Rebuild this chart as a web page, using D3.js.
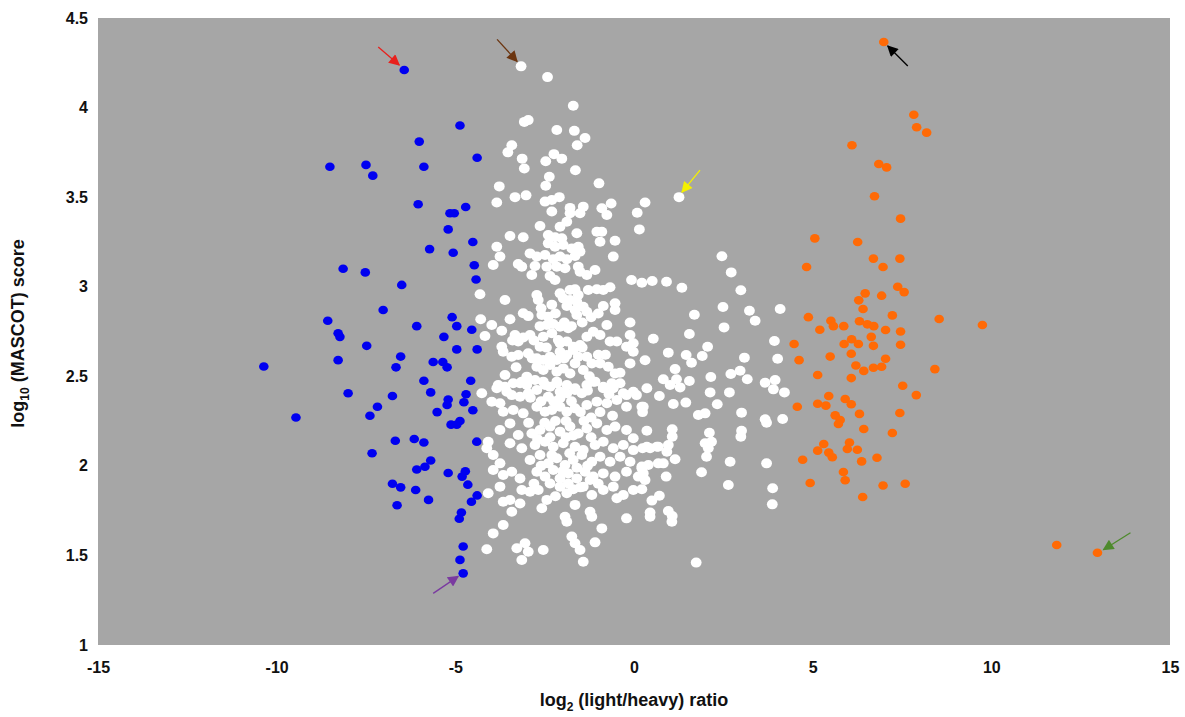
<!DOCTYPE html>
<html>
<head>
<meta charset="utf-8">
<script src="https://cdn.jsdelivr.net/npm/d3@7"></script>
<style>
  body { margin: 0; background: #fff; }
  text { font-family: "Liberation Sans", Arial, sans-serif; font-weight: bold; fill: #111; }
</style>
</head>
<body>
<div id="chart"></div>
<script>
/* Data (log2 light/heavy ratio, log10 MASCOT score) */
const xTicks = [-15, -10, -5, 0, 5, 10, 15];
const yTicks = [1, 1.5, 2, 2.5, 3, 3.5, 4, 4.5];

const bluePoints = [
  [-6.43,4.21],[-4.87,3.90],[-6.01,3.81],[-4.39,3.72],[-8.51,3.67],[-7.50,3.68],[-7.31,3.62],[-5.88,3.67],
  [-6.04,3.46],[-4.71,3.445],[-5.15,3.41],[-5.03,3.41],[-5.20,3.32],[-4.51,3.25],[-5.72,3.21],[-5.06,3.19],
  [-4.47,3.12],[-4.42,3.04],[-8.14,3.10],[-7.52,3.08],[-6.50,3.01],[-7.02,2.87],[-8.57,2.81],[-5.09,2.83],
  [-4.96,2.78],[-4.54,2.76],[-6.08,2.78],[-8.28,2.74],[-8.23,2.72],[-7.48,2.67],[-5.32,2.72],[-4.96,2.65],
  [-4.39,2.65],[-6.53,2.61],[-10.36,2.555],[-8.28,2.59],[-6.66,2.55],[-5.62,2.58],[-5.35,2.58],[-5.23,2.55],
  [-5.88,2.475],[-4.57,2.475],[-5.69,2.41],[-4.70,2.40],[-8.00,2.405],[-6.76,2.39],[-5.20,2.37],[-5.23,2.34],
  [-4.76,2.355],[-4.51,2.31],[-5.51,2.30],[-7.18,2.33],[-7.39,2.28],[-9.46,2.27],[-5.12,2.23],[-4.96,2.23],
  [-4.87,2.25],[-6.68,2.14],[-6.15,2.15],[-5.88,2.13],[-4.40,2.135],[-7.33,2.07],[-5.69,2.03],[-6.08,1.98],
  [-5.85,1.995],[-5.20,1.96],[-4.72,1.97],[-4.81,1.94],[-4.65,1.895],[-4.39,1.835],[-6.76,1.90],[-6.53,1.88],
  [-6.11,1.865],[-5.75,1.81],[-4.55,1.80],[-6.63,1.78],[-4.83,1.74],[-4.89,1.705],[-4.78,1.55],[-4.87,1.475],
  [-4.78,1.40]
];

const orangePoints = [
  [6.99,4.366],[7.83,3.96],[7.91,3.89],[8.19,3.86],[6.10,3.79],[6.85,3.685],[7.07,3.666],[6.73,3.505],
  [7.46,3.38],[5.06,3.27],[6.26,3.25],[6.70,3.157],[7.44,3.157],[4.83,3.11],[6.97,3.11],
  [7.38,3.00],[7.56,2.97],[6.47,2.963],[6.93,2.95],[6.29,2.924],[6.41,2.876],[7.23,2.84],[8.54,2.82],
  [4.88,2.83],[5.51,2.81],[5.58,2.78],[5.20,2.76],[5.87,2.78],[6.31,2.807],[6.53,2.79],[6.71,2.78],
  [7.04,2.758],[7.46,2.75],[6.64,2.72],[6.09,2.707],[5.88,2.68],[6.28,2.68],[4.48,2.68],[6.70,2.67],
  [7.46,2.676],[5.49,2.61],[6.08,2.626],[4.62,2.59],[7.04,2.598],[6.93,2.553],[6.70,2.548],[6.21,2.56],
  [6.43,2.53],[8.42,2.54],[5.14,2.507],[6.08,2.49],[7.52,2.447],[7.90,2.395],[5.45,2.39],[5.14,2.347],
  [5.37,2.336],[5.91,2.373],[6.08,2.344],[4.57,2.33],[7.44,2.295],[5.63,2.282],[5.77,2.256],[5.72,2.234],
  [6.31,2.29],[6.43,2.206],[7.23,2.183],[6.03,2.13],[5.97,2.094],[6.25,2.09],[5.31,2.122],[5.14,2.085],
  [5.45,2.074],[5.55,2.048],[4.72,2.034],[6.37,2.025],[6.80,2.045],[5.86,1.966],[5.91,1.92],[4.93,1.904],
  [6.97,1.89],[7.59,1.90],[6.40,1.826],[9.75,2.786],[11.83,1.558],[12.97,1.515]
];

const whitePoints = [
  [-3.16,4.23],[-2.42,4.17],[-1.70,4.01],[-3.07,3.92],[-2.96,3.93],[-2.16,3.875],[-1.67,3.87],[-1.37,3.83],
  [-1.59,3.79],[-3.42,3.79],[-3.53,3.75],[-3.13,3.715],[-3.07,3.66],[-2.24,3.74],[-2.02,3.715],[-2.47,3.70],
  [-1.64,3.65],[-2.37,3.614],[-2.47,3.564],[-0.98,3.577],[-3.77,3.56],[-3.33,3.50],[-3.02,3.51],[-3.84,3.47],
  [-2.49,3.475],[-2.30,3.484],[-2.09,3.50],[-2.30,3.42],[-1.79,3.44],[-1.42,3.447],[-1.79,3.41],[-1.51,3.41],
  [-0.90,3.438],[-0.76,3.40],[-0.64,3.465],[0.31,3.47],[0.09,3.413],
  [1.26,3.50],[0.15,3.32],[2.46,3.17],[2.72,3.08],[2.99,2.98],[0.22,3.022],[0.51,3.032],[0.91,3.028],
  [1.34,2.994],[2.49,2.887],[3.23,2.866],[3.39,2.81],[4.09,2.876],[1.69,2.844],[2.52,2.773],[1.55,2.736],
  [0.54,2.71],[3.93,2.697],[2.06,2.665],[0.96,2.632],[1.46,2.619],[1.91,2.613],[0.31,2.59],[1.61,2.576],
  [3.09,2.604],[4.02,2.598],[1.15,2.54],[0.82,2.483],[1.19,2.483],[1.55,2.474],[2.15,2.496],[2.71,2.513],
  [2.97,2.531],[3.17,2.483],[3.67,2.464],[3.95,2.479],[4.21,2.41],[1.01,2.451],[1.29,2.438],[2.13,2.41],
  [2.67,2.41],[3.90,2.427],
  [0.71,2.39],[1.10,2.345],[1.45,2.353],[2.33,2.344],[0.26,2.33],[0.24,2.30],[1.80,2.284],[1.99,2.293],
  [3.01,2.297],[3.67,2.26],[3.71,2.241],[4.16,2.262],[0.36,2.196],[1.07,2.204],[1.07,2.163],[2.11,2.185],
  [3.01,2.196],[2.99,2.163],[0.45,2.098],[0.68,2.107],[0.92,2.079],[0.96,2.116],[1.99,2.126],[2.17,2.135],
  [2.08,2.098],[2.03,2.051],[0.24,2.098],[1.15,2.037],[0.68,2.014],[0.82,2.014],[2.69,2.023],[3.71,2.014],
  [0.22,1.996],[0.26,1.958],[0.31,1.921],[0.90,1.94],[1.89,1.964],[2.64,1.893],[3.88,1.875],[3.87,1.785],
  [0.22,1.869],[0.71,1.833],[0.50,1.806],[0.45,1.739],[0.45,1.716],[0.96,1.748],[1.07,1.72],[1.06,1.688],
  [1.74,1.46],
  [-2.63,3.339],[-2.07,3.335],[-1.88,3.363],[-1.60,3.298],[-1.04,3.307],[-0.90,3.307],[-3.47,3.283],[-3.10,3.276],
  [-2.40,3.289],[-2.21,3.276],[-2.02,3.27],[-0.95,3.251],[-0.53,3.257],[-2.40,3.242],[-3.84,3.223],[-2.21,3.223],
  [-1.98,3.233],[-1.74,3.214],[-1.56,3.223],
  [-3.75,3.168],[-3.94,3.121],[-3.24,3.127],[-3.14,3.112],[-2.91,3.186],[-2.72,3.168],[-2.49,3.177],[-2.26,3.153],
  [-2.07,3.168],[-1.88,3.153],[-1.65,3.171],[-1.51,3.196],[-2.77,3.116],[-2.44,3.112],[-2.16,3.112],[-1.93,3.103],
  [-1.56,3.112],[-1.51,3.084],[-1.32,3.065],[-1.09,3.093],[-0.58,3.168],[-2.86,3.065],[-2.35,3.06],[-2.21,3.037],
  [-0.07,3.037],
  [-4.31,2.958],[-3.61,2.926],[-2.72,2.954],[-2.68,2.926],[-2.07,2.963],[-1.98,2.935],[-1.79,2.982],[-1.65,2.986],
  [-1.56,2.954],[-1.79,2.926],[-1.60,2.916],[-1.28,2.982],[-1.04,2.986],[-0.86,2.982],[-0.67,2.997],[-1.88,2.892],
  [-1.65,2.87],[-1.42,2.888],[-1.32,2.86],[-0.86,2.892],[-0.53,2.907],[-0.53,2.87],[-1.60,2.842],[-3.10,2.852],
  [-2.96,2.836],[-2.58,2.842],[-2.40,2.833],[-0.11,2.80],
  [-4.29,2.818],[-3.98,2.786],[-3.47,2.818],[-4.17,2.725],[-3.70,2.754],[-3.70,2.665],[-3.33,2.73],[-3.10,2.717],
  [-2.91,2.73],[-3.24,2.694],[-2.63,2.78],[-2.44,2.786],[-2.26,2.792],[-2.07,2.777],[-2.54,2.721],[-2.30,2.74],
  [-2.12,2.703],[-1.84,2.768],[-2.63,2.665],[-2.07,2.684],[-1.88,2.694],[-1.70,2.665],[-1.51,2.675],[-1.32,2.721],
  [-1.14,2.749],[-0.95,2.73],[-0.67,2.694],[-0.48,2.694],[-0.11,2.73],[-0.02,2.684],[-0.76,2.786],[-0.21,2.665],
  [-0.02,2.637],
  [-3.66,2.637],[-3.42,2.609],[-3.24,2.619],[-2.96,2.628],[-2.72,2.60],[-2.54,2.591],[-2.35,2.609],[-2.16,2.591],
  [-2.07,2.637],[-1.88,2.619],[-1.70,2.647],[-1.56,2.609],[-1.65,2.572],[-2.72,2.553],[-2.54,2.535],[-2.35,2.563],
  [-2.16,2.526],[-1.98,2.544],[-1.79,2.516],[-1.32,2.609],[-1.18,2.572],[-1.42,2.535],[-0.95,2.572],[-0.72,2.553],
  [-0.53,2.516],[-0.39,2.52],[-0.11,2.572],[-3.0,2.498],[-3.19,2.461],[-3.0,2.451],[-2.77,2.479],[-3.61,2.507],
  [-3.80,2.451],[-3.56,2.414],[-4.26,2.405],[-2.54,2.47],[-2.35,2.442],[-2.16,2.47],[-2.07,2.414],[-1.88,2.451],
  [-1.65,2.433],[-1.46,2.405],[-1.14,2.47],[-0.86,2.442],[-0.62,2.461],[-0.30,2.405],[-0.02,2.414],[0.36,2.433],
  [-3.98,2.358],[-3.75,2.349],[-3.84,2.433],[-3.61,2.442],[-3.38,2.461],[-3.14,2.47],[-3.42,2.395],[-3.19,2.386],
  [-2.96,2.405],[-2.72,2.423],[-2.49,2.451],[-2.16,2.461],[-2.40,2.386],[-2.07,2.377],[-1.88,2.405],[-1.65,2.423],
  [-1.32,2.451],[-1.09,2.47],[-0.86,2.433],[-0.58,2.433],[-0.39,2.461],[-0.21,2.395],[0.07,2.395],
  [-3.66,2.302],[-3.38,2.312],[-3.10,2.293],[-2.72,2.33],[-2.49,2.302],[-2.30,2.312],[-2.07,2.33],[-1.88,2.302],
  [-1.65,2.321],[-1.32,2.34],[-1.04,2.358],[-0.76,2.349],[-0.48,2.368],[-0.21,2.33],[0.22,2.33],
  [-3.75,2.20],[-3.47,2.237],[-3.24,2.172],[-2.86,2.181],[-2.63,2.20],[-2.35,2.219],[-2.07,2.191],[-1.79,2.219],
  [-1.56,2.181],[-1.32,2.209],[-1.04,2.237],[-0.76,2.20],[-0.53,2.219],[-0.21,2.20],[-0.02,2.154],
  [-4.08,2.135],[-4.12,2.098],[-3.47,2.126],[-3.14,2.098],[-2.77,2.116],[-2.49,2.135],[-2.26,2.107],[-1.98,2.126],
  [-1.65,2.107],[-1.42,2.088],[-1.09,2.116],[-0.86,2.135],[-0.58,2.098],[-0.30,2.116],[-0.02,2.088],[0.36,2.107],
  [0.64,2.107],
  [-3.94,2.061],[-3.75,2.014],[-3.94,1.977],[-3.66,1.949],[-3.42,1.967],[-3.19,1.93],[-2.91,2.033],[-2.63,2.061],
  [-2.40,2.014],[-2.16,2.042],[-1.93,2.005],[-1.70,2.033],[-1.46,2.061],[-1.18,2.023],[-0.95,2.051],[-0.67,2.023],
  [-0.39,2.051],[-0.11,2.023],[0.22,1.986],[0.40,2.005],
  [-2.72,1.967],[-2.49,1.94],[-2.26,1.977],[-2.07,1.93],[-1.84,1.958],[-1.60,1.93],[-1.37,1.967],[-1.14,1.94],
  [-0.86,1.958],[-0.53,1.94],[-0.21,1.967],[0.12,1.94],
  [-4.08,1.847],[-3.75,1.884],[-3.66,1.80],[-3.47,1.809],[-3.19,1.79],[-3.42,1.744],[-3.14,1.865],[-2.91,1.856],
  [-2.68,1.865],[-2.44,1.81],[-2.58,1.763],[-2.35,1.902],[-2.07,1.884],[-1.88,1.847],[-1.65,1.782],[-1.84,1.902],
  [-1.42,1.884],[-1.23,1.921],[-1.18,1.837],[-0.86,1.865],[-0.58,1.884],[-0.48,1.819],[-0.30,1.837],[-0.02,1.865],
  [-1.23,1.744],[-1.18,1.716],[-0.21,1.707],[-1.93,1.716],[-1.88,1.688],
  [-3.66,1.67],[-3.94,1.623],[-4.12,1.534],[-3.28,1.54],[-3.05,1.568],[-2.96,1.521],[-3.14,1.474],[-2.54,1.53],
  [-1.74,1.605],[-1.65,1.568],[-1.51,1.53],[-1.42,1.465],[-1.09,1.573],[-0.90,1.651],
  /* overlapping dots inside the dense core */
  [-2.6,2.88],[-2.3,2.90],[-2.2,2.85],[-1.95,2.80],[-1.75,2.78],[-1.45,2.80],[-1.2,2.83],[-1.0,2.85],
  [-2.85,2.60],[-2.45,2.66],[-1.95,2.60],[-1.45,2.66],[-1.25,2.50],[-1.0,2.62],[-0.8,2.62],[-2.9,2.38],
  [-2.6,2.36],[-2.25,2.36],[-1.75,2.36],[-1.5,2.30],[-1.2,2.27],[-0.95,2.30],[-0.6,2.28],[-2.95,2.24],
  [-2.5,2.24],[-2.2,2.25],[-1.9,2.25],[-1.4,2.25],[-2.7,2.15],[-2.35,2.16],[-1.9,2.16],[-1.7,2.17],
  [-1.2,2.16],[-2.6,2.00],[-2.3,2.06],[-1.8,2.07],[-1.6,1.99],[-1.3,2.00],[-2.8,1.90],[-2.0,1.97],
  [-1.5,1.88],[-2.2,1.83],[-1.7,1.87],[-1.0,1.90],[-3.3,2.55],[-3.4,2.70],[-2.8,2.70],[-1.3,2.42],
  [-0.7,2.40]
];

/* highlighted peptides: [x, y] of the pointed-at dot */
const arrowNames = ["red", "brown", "black", "yellow", "purple", "green"];
const arrowTargets = [[-6.43,4.21],[-3.16,4.23],[6.99,4.366],[1.26,3.50],[-4.78,1.40],[12.97,1.515]];

/* Chart */
const width = 1185, height = 717;
const plot = { left: 98, right: 1170, top: 18, bottom: 645 };

const svg = d3.select("#chart").append("svg")
  .attr("width", width)
  .attr("height", height);

const x = d3.scaleLinear().domain([-15, 15]).range([plot.left, plot.right]);
const y = d3.scaleLinear().domain([1, 4.5]).range([plot.bottom, plot.top]);

svg.append("rect")
  .attr("x", plot.left)
  .attr("y", plot.top)
  .attr("width", plot.right - plot.left)
  .attr("height", plot.bottom - plot.top)
  .attr("fill", "#a6a6a6");

/* axes: labels only, no lines */
const xAxis = svg.append("g")
  .attr("transform", `translate(0,${plot.bottom + 11})`)
  .call(d3.axisBottom(x).tickValues(xTicks).tickSize(0).tickPadding(6).tickFormat(d => String(d)));
const yAxis = svg.append("g")
  .attr("transform", `translate(${plot.left - 10},0)`)
  .call(d3.axisLeft(y).tickValues(yTicks).tickSize(0).tickPadding(0).tickFormat(d => String(d)));
[xAxis, yAxis].forEach(a => {
  a.select(".domain").remove();
  a.selectAll("text")
    .attr("font-family", "'Liberation Sans', Arial, sans-serif")
    .attr("font-weight", "bold")
    .attr("font-size", "16px")
    .attr("fill", "#111");
});

const xTitle = svg.append("text")
  .attr("x", (plot.left + plot.right) / 2)
  .attr("y", 706)
  .attr("text-anchor", "middle")
  .attr("font-size", "18px");
xTitle.append("tspan").text("log");
xTitle.append("tspan").attr("font-size", "12px").attr("dy", 5).text("2");
xTitle.append("tspan").attr("dy", -5).text(" (light/heavy) ratio");

const yTitle = svg.append("text")
  .attr("transform", `translate(24,${(plot.top + plot.bottom) / 2 + 2}) rotate(-90)`)
  .attr("text-anchor", "middle")
  .attr("font-size", "18px");
yTitle.append("tspan").text("log");
yTitle.append("tspan").attr("font-size", "12px").attr("dy", 5).text("10");
yTitle.append("tspan").attr("dy", -5).text(" (MASCOT) score");

/* points */
function drawDots(data, fill, rx, ry) {
  svg.append("g").selectAll("ellipse")
    .data(data)
    .enter()
    .append("ellipse")
    .attr("cx", d => x(d[0]))
    .attr("cy", d => y(d[1]))
    .attr("rx", rx)
    .attr("ry", ry)
    .attr("fill", fill);
}
drawDots(whitePoints, "#ffffff", 5.4, 5);
drawDots(bluePoints, "#0000f0", 4.8, 4.3);
drawDots(orangePoints, "#ff6a06", 4.8, 4.3);

/* arrows */
const arrowColor = { red: "#e8201c", brown: "#6b3510", black: "#000000", yellow: "#f4f000", purple: "#7a3aa0", green: "#4e8a2c" };
// tail and tip offsets (px) from the pointed-at dot
const arrowTail = { red: [-26,-23], brown: [-24,-27], black: [24,24], yellow: [21,-27], purple: [-30,20], green: [33,-20] };
const arrowTip  = { red: [-5,-5], brown: [-4,-5], black: [4,4], yellow: [3,-5], purple: [-5,3], green: [6,-3] };

const defs = svg.append("defs");
arrowNames.forEach(n => {
  defs.append("marker")
    .attr("id", "head-" + n)
    .attr("viewBox", "0 0 10 10")
    .attr("refX", 9)
    .attr("refY", 5)
    .attr("markerUnits", "userSpaceOnUse")
    .attr("markerWidth", 12)
    .attr("markerHeight", 11)
    .attr("orient", "auto")
    .append("path")
    .attr("d", "M0,0 L10,5 L0,10 Z")
    .attr("fill", arrowColor[n]);
});

arrowNames.forEach((n, i) => {
  const px = x(arrowTargets[i][0]), py = y(arrowTargets[i][1]);
  svg.append("line")
    .attr("x1", px + arrowTail[n][0])
    .attr("y1", py + arrowTail[n][1])
    .attr("x2", px + arrowTip[n][0])
    .attr("y2", py + arrowTip[n][1])
    .attr("stroke", arrowColor[n])
    .attr("stroke-width", 1.3)
    .attr("marker-end", `url(#head-${n})`);
});
</script>
</body>
</html>
